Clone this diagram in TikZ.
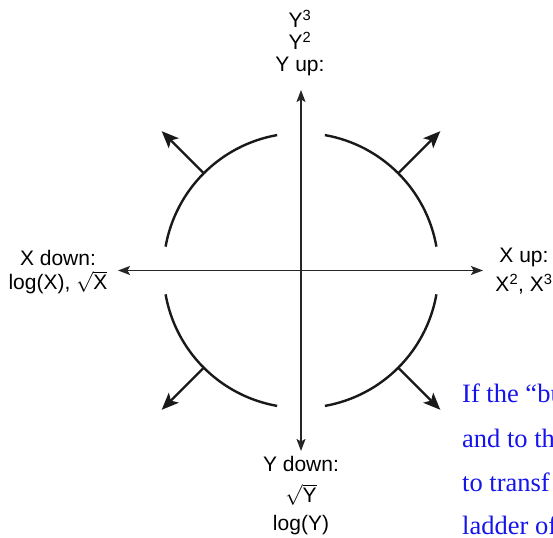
\documentclass[tikz,border=0pt]{standalone}
\usepackage{fontspec}
\setmainfont{Liberation Sans}
\newfontfamily\bluefont{Liberation Serif}
\usetikzlibrary{arrows.meta,calc}
\definecolor{txtblue}{RGB}{20,20,235}
\begin{document}
\begin{tikzpicture}[x=1pt,y=1pt,
  axis/.style={line width=1.5pt, draw=black!85,
    {Stealth[length=12pt,width=9pt,inset=2.5pt]}-{Stealth[length=12pt,width=9pt,inset=2.5pt]}},
  bulge/.style={line width=2.4pt, draw=black!90},
  push/.style={line width=2.4pt, draw=black!90, -{Stealth[length=17pt,width=14pt,inset=4pt]}},
  lbl/.style={font=\fontsize{21}{23}\selectfont, inner sep=0pt, anchor=base},
  note/.style={font=\bluefont\fontsize{26.5}{30}\selectfont, text=txtblue, inner sep=0pt, anchor=base west}]
\useasboundingbox (0,0) rectangle (553,537);
\clip (0,0) rectangle (553,537);
\coordinate (C) at (301,266.5);
\coordinate (xl) at ($(C)+(-183,0)$);
\coordinate (xr) at ($(C)+(182,0)$);
\coordinate (yt) at ($(C)+(0,180.5)$);
\coordinate (yb) at ($(C)+(0,-180.5)$);
\draw[axis] (xl) -- (xr);
\draw[axis] (yb) -- (yt);
\foreach \a in {0,90,180,270}
  \draw[bulge] ($(C)+(\a+10:137.5pt)$) arc[start angle=\a+10, end angle=\a+80, radius=137.5pt];
\foreach \a in {45,135,225,315}{
  \coordinate (s\a) at ($(C)+(\a:137.5pt)$);
  \coordinate (t\a) at ($(C)+(\a:197pt)$);
  \draw[push] (s\a) -- (t\a);
}
% top label
\node[lbl] (yup3) at (300,509) {Y\textsuperscript{3}};
\node[lbl] (yup2) at (300,487) {Y\textsuperscript{2}};
\node[lbl] (yup)  at (300,465) {Y up:};
% left label
\node[lbl] (xdown)  at (58,271) {X down:};
\node[lbl] (xdown2) at (58,247) {log(X), $\sqrt{\mbox{X}}$};
% right label
\node[lbl] (xup)  at (524,274) {X up:};
\node[lbl] (xup2) at (524,245) {X\textsuperscript{2}, X\textsuperscript{3}};
% bottom label
\node[lbl] (ydown)  at (301,65) {Y down:};
\node[lbl] (ydown2) at (301,34) {$\sqrt{\mbox{Y}}$};
\node[lbl] (ydown3) at (301,6) {log(Y)};
% blue text
\node[note] (n1) at (462,134) {If the “bu};
\node[note] (n2) at (462,89) {and to th};
\node[note] (n3) at (462,45) {to transf};
\node[note] (n4) at (462,2) {ladder of};
\end{tikzpicture}
\end{document}
